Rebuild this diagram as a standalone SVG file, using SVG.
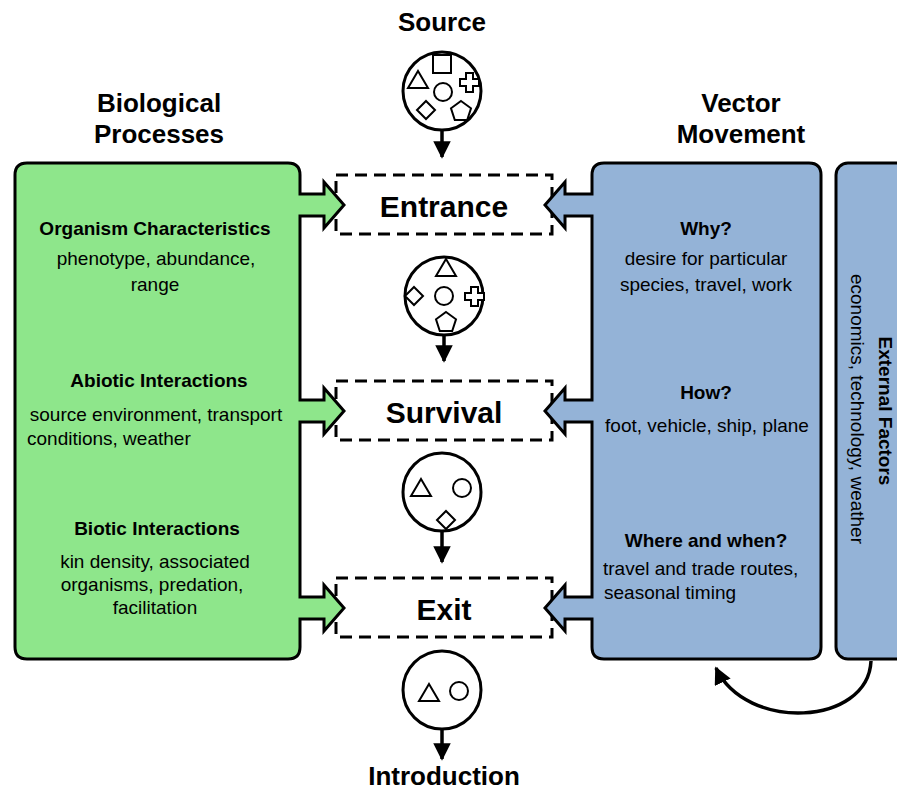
<svg xmlns="http://www.w3.org/2000/svg" width="897" height="790" viewBox="0 0 897 790">
<defs>
<style>
.t{font-family:"Liberation Sans",Arial,sans-serif;fill:#000;text-anchor:middle}
.h{font-size:26px;font-weight:bold}
.b{font-size:19px;font-weight:bold}
.r{font-size:19px}
.s{font-size:30px;font-weight:bold}
.panel{stroke:#000;stroke-width:3;stroke-linejoin:miter}
.dash{fill:#fff;stroke:#000;stroke-width:3;stroke-dasharray:12 7}
.circ{fill:#fff;stroke:#000;stroke-width:3}
.sh{fill:#fff;stroke:#000;stroke-width:2}
.conn{fill:none;stroke:#000;stroke-width:3.5}
</style>
<marker id="ah" viewBox="0 0 10 10" refX="9" refY="5" markerWidth="5" markerHeight="5" orient="auto" markerUnits="strokeWidth">
<path d="M0,0 L10,5 L0,10 Z" fill="#000"/>
</marker>
</defs>
<rect width="897" height="790" fill="#fff"/>

<g id="headers">
<text class="t h" x="442" y="31">Source</text>
<text class="t h" x="159" y="112">Biological</text>
<text class="t h" x="159" y="143">Processes</text>
<text class="t h" x="741" y="112">Vector</text>
<text class="t h" x="741" y="143">Movement</text>
<text class="t h" x="444" y="785">Introduction</text>
</g>

<g id="stages">
<g id="entrance"><rect class="dash" x="336" y="175" width="216" height="59"/><text class="t s" x="444" y="217">Entrance</text></g>
<g id="survival"><rect class="dash" x="336" y="381" width="216" height="59"/><text class="t s" x="444" y="423">Survival</text></g>
<g id="exit"><rect class="dash" x="336" y="578" width="216" height="59"/><text class="t s" x="444" y="620">Exit</text></g>
</g>

<g id="biological">
<path class="panel" fill="#8ee68b" d="M27 163 H288 Q300 163 300 175 V194 H324 V182 L344 205 L324 228 V216 H300 V400 H324 V388 L344 411 L324 434 V422 H300 V597 H324 V585 L344 608 L324 631 V619 H300 V647 Q300 659 288 659 H27 Q15 659 15 647 V175 Q15 163 27 163 Z"/>
<text class="t b" x="155" y="235">Organism Characteristics</text>
<text class="t r" x="156" y="265">phenotype, abundance,</text>
<text class="t r" x="155" y="291">range</text>
<text class="t b" x="159" y="387">Abiotic Interactions</text>
<text class="t r" x="156" y="421">source environment, transport</text>
<text class="t r" x="27" y="445" style="text-anchor:start">conditions, weather</text>
<text class="t b" x="157" y="535">Biotic Interactions</text>
<text class="t r" x="155" y="568">kin density, associated</text>
<text class="t r" x="152" y="591">organisms, predation,</text>
<text class="t r" x="155" y="614">facilitation</text>
</g>

<g id="vector">
<path class="panel" fill="#94b3d7" d="M604 163 H809 Q821 163 821 175 V647 Q821 659 809 659 H604 Q592 659 592 647 V619 H565 V631 L545 608 L565 585 V597 H592 V422 H565 V434 L545 411 L565 388 V400 H592 V216 H565 V228 L545 205 L565 182 V194 H592 V175 Q592 163 604 163 Z"/>
<text class="t b" x="706" y="235">Why?</text>
<text class="t r" x="706" y="265">desire for particular</text>
<text class="t r" x="706" y="291">species, travel, work</text>
<text class="t b" x="706" y="399">How?</text>
<text class="t r" x="707" y="432">foot, vehicle, ship, plane</text>
<text class="t b" x="706" y="547">Where and when?</text>
<text class="t r" x="603" y="575" style="text-anchor:start">travel and trade routes,</text>
<text class="t r" x="604" y="599" style="text-anchor:start">seasonal timing</text>
</g>

<g id="external">
<rect class="panel" fill="#94b3d7" x="836" y="163" width="90" height="496" rx="12"/>
<text class="t b" transform="translate(879 411) rotate(90)">External Factors</text>
<text class="t r" transform="translate(851 409) rotate(90)">economics, technology, weather</text>
</g>

<g id="pool-source">
<circle class="circ" cx="442" cy="91" r="39"/>
<rect class="sh" x="433" y="55" width="18" height="18"/>
<path class="sh" d="M418 71 L428 88 L408 88 Z"/>
<path class="sh" d="M466 73 H473 V79 H479 V86 H473 V92 H466 V86 H460 V79 H466 Z"/>
<circle class="sh" cx="443" cy="92" r="9"/>
<path class="sh" d="M426 101 L435 110 L426 119 L417 110 Z"/>
<path class="sh" d="M461 101 L471 108.3 L467.2 120 L454.8 120 L451 108.3 Z"/>
</g>

<g id="pool-entrance">
<circle class="circ" cx="444" cy="296" r="39"/>
<path class="sh" d="M446 259 L456 276 L436 276 Z"/>
<path class="sh" d="M414 287 L423 296 L414 305 L405 296 Z"/>
<circle class="sh" cx="444" cy="296" r="9"/>
<path class="sh" d="M471 287 H478 V293 H484 V300 H478 V306 H471 V300 H465 V293 H471 Z"/>
<path class="sh" d="M446 312 L456 319.3 L452.2 331 L439.8 331 L436 319.3 Z"/>
</g>

<g id="pool-survival">
<circle class="circ" cx="442" cy="492" r="39"/>
<path class="sh" d="M421 479 L431 496 L411 496 Z"/>
<circle class="sh" cx="462" cy="488" r="9"/>
<path class="sh" d="M446 511 L455 520 L446 529 L437 520 Z"/>
</g>

<g id="pool-exit">
<circle class="circ" cx="442" cy="690" r="39"/>
<path class="sh" d="M429 684 L439 701 L419 701 Z"/>
<circle class="sh" cx="459" cy="691" r="9"/>
</g>

<g id="connectors">
<line class="conn" x1="442" y1="130" x2="442" y2="157" marker-end="url(#ah)"/>
<line class="conn" x1="444" y1="335" x2="444" y2="361" marker-end="url(#ah)"/>
<line class="conn" x1="442" y1="531" x2="442" y2="562" marker-end="url(#ah)"/>
<line class="conn" x1="442" y1="729" x2="442" y2="759" marker-end="url(#ah)"/>
<path class="conn" d="M871 661 C868 726 746 732 716 668" marker-end="url(#ah)"/>
</g>
</svg>
